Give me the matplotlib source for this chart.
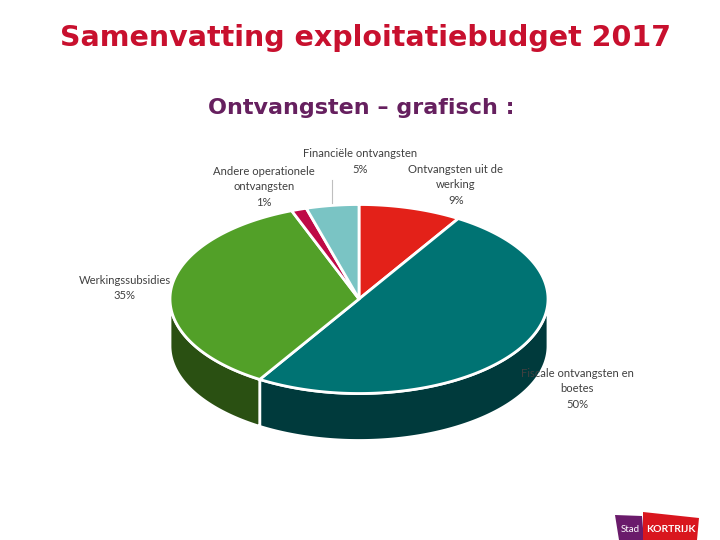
import numpy as np
import matplotlib
matplotlib.use("Agg")
import matplotlib.pyplot as plt
from matplotlib.patches import Polygon

categories = ["Ontvangsten uit de\nwerking", "Fiscale ontvangsten en\nboetes", "Werkingssubsidies",
              "Andere operationele\nontvangsten", "Financiële ontvangsten"]
values = [8.8, 50.0, 35.4, 1.3, 4.5]
shown_pct = ["9%", "50%", "35%", "1%", "5%"]
top_colors = ["#E32119", "#007373", "#52A028", "#BE0A46", "#7AC4C4"]
side_colors = ["#7A100C", "#003A3C", "#2A5012", "#600524", "#3E6262"]
label_xy = [(456, 185), (577, 389), (125, 288), (264, 187), (360, 161.5)]

CX, CY, RX, RY, DEPTH = 359, 299, 189, 94.5, 47

fig = plt.figure(figsize=(7.2, 5.4), dpi=100, facecolor="white")
ax = fig.add_axes([0, 0, 1, 1])
ax.set_xlim(0, 720)
ax.set_ylim(540, 0)
ax.axis("off")

def rim(a0, a1):
    t = np.linspace(a0, a1, 200)
    return CX + RX * np.sin(t), CY - RY * np.cos(t)

edges = np.concatenate([[0], np.cumsum(values)]) / np.sum(values) * 2 * np.pi

for a0, a1, col in zip(edges[:-1], edges[1:], side_colors):
    lo, hi = max(a0, np.pi / 2), min(a1, 3 * np.pi / 2)
    if hi <= lo:
        continue
    x, y = rim(lo, hi)
    pts = np.r_[np.c_[x, y], np.c_[x[::-1], y[::-1] + DEPTH]]
    ax.add_patch(Polygon(pts, closed=True, fc=col, ec="white", lw=2, zorder=2))

for a0, a1, col in zip(edges[:-1], edges[1:], top_colors):
    x, y = rim(a0, a1)
    pts = np.r_[[[CX, CY]], np.c_[x, y]]
    ax.add_patch(Polygon(pts, closed=True, fc=col, ec="white", lw=2, joinstyle="miter", zorder=3))

# leader line of the Financiële label
ax.plot([331.5, 331.5], [180, 203], color="#BFBFBF", lw=0.8, zorder=4)

for name, pct, (lx, ly) in zip(categories, shown_pct, label_xy):
    ax.text(lx, ly, f"{name}\n{pct}", ha="center", va="center", fontsize=8.1,
            family="Lato", color="#404040", linespacing=1.47, zorder=5)

ax.text(365, 38, "Samenvatting exploitatiebudget 2017", ha="center", va="center",
        fontsize=20.5, fontweight="bold", family="DejaVu Sans", color="#C8102E")
ax.text(361, 108, "Ontvangsten – grafisch :", ha="center", va="center",
        fontsize=16, fontweight="bold", family="DejaVu Sans", color="#66205F")

# logo
ax.add_patch(Polygon([[615, 515], [642, 516], [644, 540], [619, 540]], closed=True, fc="#6A1B6B", ec="none"))
ax.add_patch(Polygon([[643, 512], [699, 518], [697, 540], [643, 540]], closed=True, fc="#D9161E", ec="none"))
ax.text(630, 529, "Stad", color="white", fontsize=7, ha="center", va="center", family="Lato")
ax.text(670.5, 529, "KORTRIJK", color="white", fontsize=7.5, fontweight="bold", ha="center", va="center", family="Lato")

fig.savefig("out.png", dpi=100)
